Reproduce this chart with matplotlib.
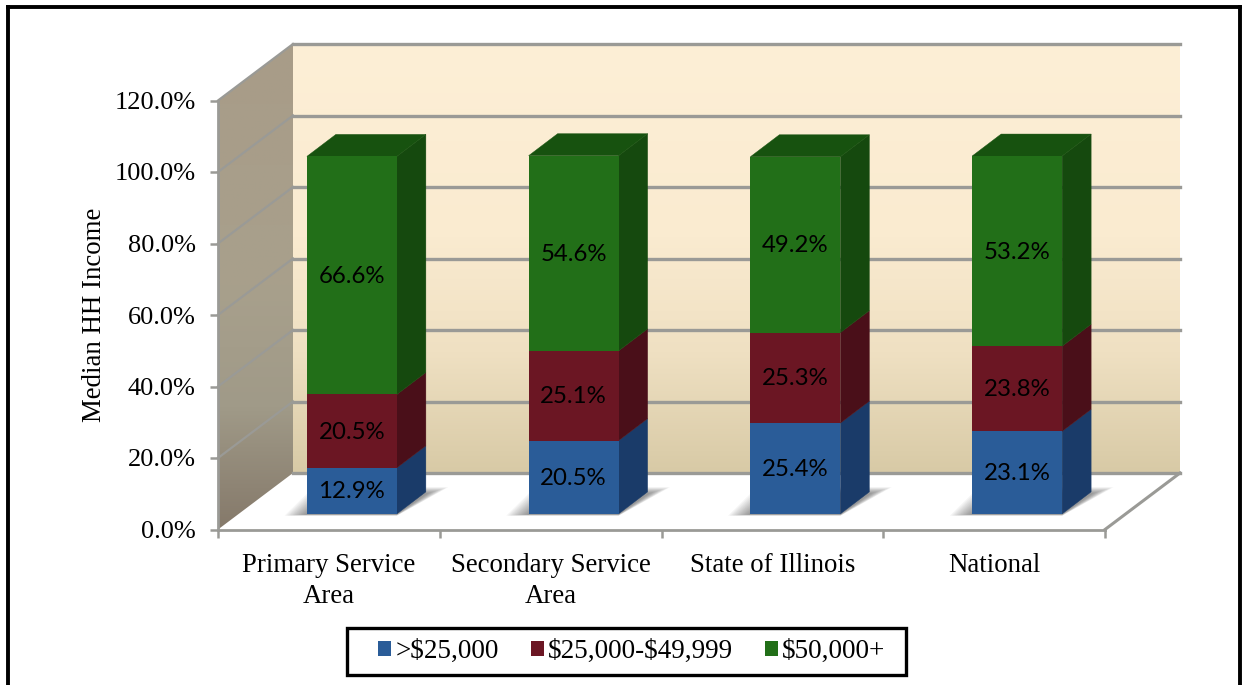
import numpy as np
import matplotlib
matplotlib.use("Agg")
import matplotlib.pyplot as plt
from matplotlib.patches import Polygon, Patch, Rectangle
from matplotlib.lines import Line2D
from matplotlib.colors import LinearSegmentedColormap

categories = ["Primary Service\nArea", "Secondary Service\nArea", "State of Illinois", "National"]
series_names = [">$25,000", "$25,000-$49,999", "$50,000+"]
low_income = [12.9, 20.5, 25.4, 23.1]
mid_income = [20.5, 25.1, 25.3, 23.8]
high_income = [66.6, 54.6, 49.2, 53.2]
y_ticks = [0, 20, 40, 60, 80, 100, 120]

W, H = 1244, 685
plt.rcParams['font.family'] = ['Liberation Serif', 'DejaVu Serif']
plt.rcParams['text.parse_math'] = False
fig = plt.figure(figsize=(W / 100, H / 100), dpi=100)
L, R, T, B = 218.0, 1105.0, 100.5, 529.5
ax = fig.add_axes([L / W, 1 - B / H, (R - L) / W, (B - T) / H])
ax.set_xlim(0, 4)
ax.set_ylim(0, 120)
ax.patch.set_alpha(0)

px_x = (R - L) / 4
px_y = (B - T) / 120
DX, DY = 75 / px_x, 56.5 / px_y          # chart depth
bar_w = 90 / px_x
bar_dx, bar_dy = 23 / px_x, 15.6 / px_y  # bar front face offset into the chart
side_dx, side_dy = 29 / px_x, 22 / px_y  # bar depth

grid_c = "#9a9a96"

# walls
wall_cm = LinearSegmentedColormap.from_list("wall", [(0, "#FDEFD6"), (0.45, "#FAEBD0"), (0.72, "#EFE0C2"), (1, "#D8CAA6")])
ax.imshow(np.linspace(0, 1, 256)[:, None], cmap=wall_cm, aspect="auto", origin="upper",
          extent=(DX, 4 + DX, DY, 120 + DY), zorder=1, clip_on=False)
side_cm = LinearSegmentedColormap.from_list("side", [(0, "#A89C88"), (0.5, "#A8A08C"), (0.75, "#A09A88"), (1, "#85796A")])
side_img = ax.imshow(np.linspace(0, 1, 256)[:, None], cmap=side_cm, aspect="auto", origin="upper",
                     extent=(0, DX, 0, 120 + DY), zorder=1)
side_poly = Polygon([(0, 0), (DX, DY), (DX, 120 + DY), (0, 120)], closed=True, transform=ax.transData, fc="none", ec="none")
ax.add_patch(side_poly)
side_img.set_clip_path(side_poly)
side_img.set_clip_box(fig.bbox)
ax.set_xlim(0, 4)
ax.set_ylim(0, 120)

# gridlines on back and side walls
for v in y_ticks:
    if v > 0:
        ax.plot([0, DX], [v, v + DY], color=grid_c, lw=1.6, zorder=2, clip_on=False)
    ax.plot([DX, 4 + DX], [v + DY, v + DY], color=grid_c, lw=2.4, zorder=2, clip_on=False)
ax.plot([4, 4 + DX], [0, DY], color=grid_c, lw=2.2, zorder=2, clip_on=False)

front_c = ["#2A5C98", "#6B1623", "#226F18"]
side_c = ["#1A3B69", "#4A0F19", "#15490E"]
top_c = "#17520F"

xs = np.arange(4) + 0.5 + bar_dx
# soft floor shadows
for x in xs:
    xl, xr = x - bar_w / 2, x + bar_w / 2
    for k in range(14):
        g = (14 - k) * 1.6
        gx = g / px_x
        y0 = bar_dy - (0.5 + g * 0.06) / px_y
        ytop = bar_dy + side_dy + (g * 0.3 - 2) / px_y
        ax.add_patch(Polygon([(xl - gx, y0), (xr, y0),
                              (xr + side_dx + gx, ytop),
                              (xl + side_dx - gx, ytop)], closed=True,
                             fc="#2a2a2a", ec="none", alpha=0.042, zorder=3, clip_on=False))

# stacked bars
bottom = np.zeros(4) + bar_dy
for vals, fc, sc in zip([low_income, mid_income, high_income], front_c, side_c):
    vals = np.array(vals)
    for x, b, v in zip(xs, bottom, vals):
        xr = x + bar_w / 2
        ax.add_patch(Polygon([(xr, b), (xr + side_dx, b + side_dy), (xr + side_dx, b + v + side_dy), (xr, b + v)],
                             closed=True, fc=sc, ec=sc, lw=0.3, zorder=4, clip_on=False))
        ax.annotate(f"{v:.1f}%", (x, b + v / 2), xytext=(0, -1), textcoords="offset pixels",
                    ha="center", va="center", fontsize=17.3,
                    family=["Lato", "DejaVu Sans"], color="black", zorder=7)
    ax.bar(xs, vals, bar_w, bottom=bottom, color=fc, zorder=5, clip_on=False)
    bottom = bottom + vals
for x, t in zip(xs, bottom):
    xl, xr = x - bar_w / 2, x + bar_w / 2
    ax.add_patch(Polygon([(xl, t), (xr, t), (xr + side_dx, t + side_dy), (xl + side_dx, t + side_dy)],
                         closed=True, fc=top_c, ec=top_c, lw=0.3, zorder=4, clip_on=False))

# axes
for s in ("top", "right"):
    ax.spines[s].set_visible(False)
for s in ("left", "bottom"):
    ax.spines[s].set_color(grid_c)
    ax.spines[s].set_linewidth(2.0)
    ax.spines[s].set_zorder(6)
ax.set_yticks(y_ticks)
ax.set_yticklabels([f"{v:.1f}%" for v in y_ticks], fontsize=19)
ax.tick_params(axis="y", length=6, width=1.8, color=grid_c, pad=10, labelcolor="black")
ax.set_xticks(range(5))
ax.set_xticklabels([])
ax.tick_params(axis="x", which="major", length=6, width=1.8, color=grid_c)
ax.set_xticks(np.arange(4) + 0.5, minor=True)
ax.set_xticklabels(categories, minor=True, fontsize=19.3, linespacing=1.3)
ax.tick_params(axis="x", which="minor", length=0, pad=17)
ax.set_ylabel("Median HH Income", fontsize=19.4, labelpad=0)
ax.yaxis.set_label_coords((107 - L) / (R - L), (B - 315) / (B - T))

# legend
fig.add_artist(Rectangle((347 / W, 1 - 675 / H), 559 / W, 47 / H, transform=fig.transFigure,
                         fc="white", ec="black", lw=2.4, zorder=5))
handles = [Patch(fc=c, ec="none") for c in front_c]
leg = fig.legend(handles, series_names, ncol=3, loc="center", bbox_to_anchor=(632 / W, 1 - 651.5 / H),
                 fontsize=19.5, frameon=False,
                 handlelength=0.48, handleheight=0.48, handletextpad=0.14, columnspacing=1.2,
                 borderpad=0.2, borderaxespad=0)
leg.set_zorder(6)

# outer frame
for xs_, ys_ in ([(8, 8), (7, 685)], [(8, 1240), (7, 7)], [(1240, 1240), (7, 685)]):
    fig.add_artist(Line2D([x / W for x in xs_], [1 - y / H for y in ys_], color="black", lw=2.8))

fig.savefig("out.png", dpi=100)
